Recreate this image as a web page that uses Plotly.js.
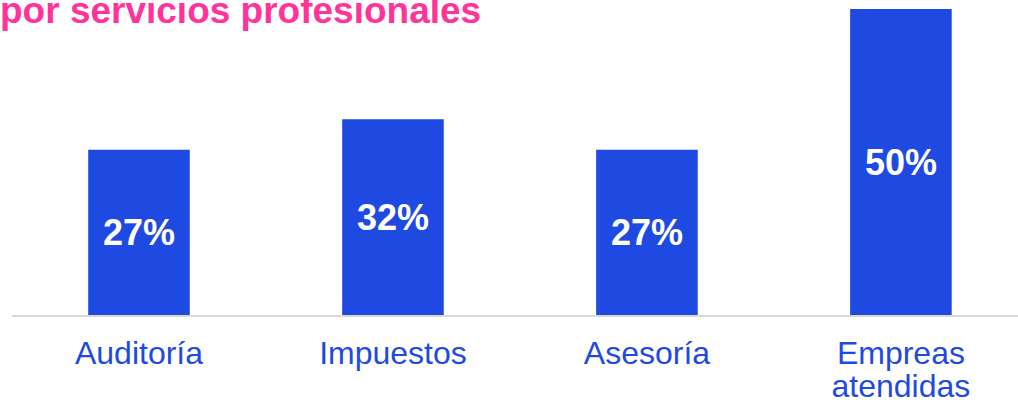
<!DOCTYPE html>
<html>
<head>
<meta charset="utf-8">
<script src="https://cdn.plot.ly/plotly-3.0.1.min.js"></script>
<style>html,body{margin:0;padding:0;background:#fff;}#chart{width:1018px;height:403px;}</style>
</head>
<body>
<div id="chart"></div>
<script>
const categories = ["Auditoría", "Impuestos", "Asesoría", "Empresas atendidas"];
const tickLabels = ["Auditoría", "Impuestos", "Asesoría", "Empreas<br>atendidas"];
const values = [27, 32, 27, 50];
const valueLabels = ["27%", "32%", "27%", "50%"];
const titleText = "por servicios profesionales";

const BLUE = "#1f4ae2";
const PINK = "#ff3399";
const FONT = "Liberation Sans, Arial, sans-serif";

const idx = categories.map((c, i) => i);
const wrap = s => s.split("<br>").map(p => '<span style="font-size:32px">' + p + '</span>').join("<br>");

const trace = {
  type: "bar",
  x: idx,
  y: values,
  text: valueLabels,
  textposition: "inside",
  insidetextanchor: "middle",
  textangle: 0,
  constraintext: "none",
  textfont: {family: FONT, size: 36, color: "#ffffff", weight: "bold"},
  marker: {color: BLUE},
  hoverinfo: "none"
};

const layout = {
  width: 1018,
  height: 403,
  margin: {l: 12, r: 0, t: 0, b: 88, pad: 0},
  paper_bgcolor: "#ffffff",
  plot_bgcolor: "#ffffff",
  bargap: 0.6,
  showlegend: false,
  title: {
    text: "<b>" + titleText + "</b>",
    font: {family: FONT, size: 37, color: PINK},
    x: 0, xref: "container", xanchor: "left",
    y: 0.975, yref: "container", yanchor: "middle",
    pad: {t: 0, b: 0, l: 0, r: 0}
  },
  xaxis: {
    range: [-0.5, 3.461],
    tickmode: "array",
    tickvals: idx,
    ticktext: tickLabels.map(wrap),
    tickfont: {family: FONT, size: 25, color: BLUE},
    ticks: "",
    showgrid: false,
    zeroline: false,
    showline: true,
    linecolor: "#d9d9d9",
    linewidth: 2,
    ticklabelstandoff: 17,
    fixedrange: true,
    automargin: false
  },
  yaxis: {
    range: [0, 51.47],
    visible: false,
    showgrid: false,
    zeroline: false,
    fixedrange: true,
    automargin: false
  }
};

Plotly.newPlot("chart", [trace], layout, {displayModeBar: false, staticPlot: true});
</script>
</body>
</html>
